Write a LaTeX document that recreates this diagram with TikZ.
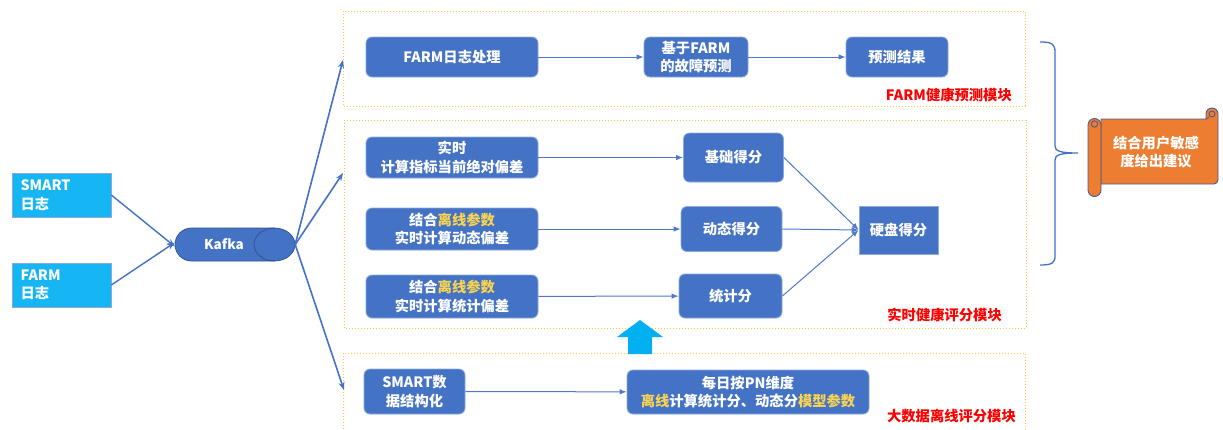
\documentclass[tikz,border=0pt]{standalone}
\usepackage{fontspec}
\setmainfont{Noto Sans CJK SC}
\usetikzlibrary{shapes.geometric,arrows.meta}
\definecolor{boxblue}{RGB}{68,114,196}
\definecolor{boxedge}{RGB}{140,170,220}
\definecolor{kafkaedge}{RGB}{47,82,143}
\definecolor{srcblue}{RGB}{22,182,245}
\definecolor{framey}{RGB}{255,200,60}
\definecolor{hlyellow}{RGB}{250,212,80}
\definecolor{labred}{RGB}{255,0,0}
\definecolor{arrblue}{RGB}{80,120,200}
\definecolor{scrollor}{RGB}{237,125,49}
\definecolor{scrolled}{RGB}{75,90,140}
\definecolor{uparrow}{RGB}{0,176,240}
\newcommand{\fs}{\fontsize{14.3}{18.5}\selectfont}
\newcommand{\hl}[1]{\textcolor{hlyellow}{#1}}
\begin{document}
\begin{tikzpicture}[x=1pt,y=-1pt,
  blk/.style={rectangle, rounded corners=6pt, fill=boxblue, draw=boxedge, line width=0.8pt,
    text=white, font=\fs\bfseries, align=center, inner sep=0pt},
  src/.style={rectangle, fill=srcblue, draw=boxedge, line width=0.6pt, text=white,
    font=\fs\bfseries, align=left, text width=82pt, inner xsep=8.5pt, inner ysep=0pt,
    minimum width=99pt, minimum height=44pt},
  frame/.style={draw=framey, dotted, line width=1pt},
  modlab/.style={text=labred, font=\fs\bfseries, anchor=east, inner sep=0pt},
  flow/.style={draw=arrblue, line width=1pt, -{Latex[length=7pt,width=5.5pt]}},
  karr/.style={draw=boxblue, line width=1.6pt, -{Stealth[length=8pt,width=6pt]}}
]
\useasboundingbox (0,0) rectangle (1223,429);
\fill[white] (0,0) rectangle (1223,429);

% module frames
\draw[frame] (343,11) rectangle (1025,106);
\draw[frame] (344,120) rectangle (1026,328);
\draw[frame] (343,435) -- (343,353) -- (1025,353) -- (1025,435);

% sources
\node[src] (smart) at (61.5,195) {SMART\\日志};
\node[src] (farm) at (61.5,285) {FARM\\日志};

% Kafka (horizontal cylinder)
\node[minimum width=120pt, minimum height=33pt, inner sep=0pt] (kafka) at (235,244.5) {};
\filldraw[fill=boxblue, draw=kafkaedge, line width=0.7pt]
  (191.5,228) -- (274.5,228)
  arc[start angle=90, end angle=-90, x radius=20.5pt, y radius=16.5pt]
  -- (191.5,261)
  arc[start angle=270, end angle=90, radius=16.5pt] -- cycle;
\draw[kafkaedge, line width=0.7pt] (274.5,228)
  arc[start angle=90, end angle=270, x radius=20.5pt, y radius=16.5pt];
\node[text=white, font=\fontsize{13.5}{16}\selectfont\bfseries, inner sep=0pt] (kafkatext) at (224,244.5) {Kafka};

\draw[karr, line width=1.4pt] (smart.east) -- ([yshift=-2pt]kafka.west);
\draw[karr, line width=1.4pt] (farm.east) -- ([yshift=2pt]kafka.west);

\coordinate (ktop) at (343,60);
\coordinate (kmid) at (343,173);
\coordinate (kbot) at (344,390);
\draw[karr] (kafka.east) -- (ktop);
\draw[karr] (kafka.east) -- (kmid);
\draw[karr] (kafka.east) -- (kbot);

% top module
\node[blk, minimum width=172pt, minimum height=40pt] (f1) at (452,57) {FARM日志处理};
\node[blk, minimum width=104pt, minimum height=40pt] (f2) at (696,57) {基于FARM\\的故障预测};
\node[blk, minimum width=102pt, minimum height=40pt] (f3) at (897,57) {预测结果};
\draw[flow] (f1) -- (f2);
\draw[flow] (f2) -- (f3);
\node[modlab] (l1) at (1012,95) {FARM健康预测模块};

% middle module
\node[blk, minimum width=172pt, minimum height=41pt] (m1) at (452,157.5) {实时\\计算指标当前绝对偏差};
\node[blk, minimum width=172pt, minimum height=42pt] (m2) at (452,229) {结合\hl{离线参数}\\实时计算动态偏差};
\node[blk, minimum width=172pt, minimum height=43pt] (m3) at (452,296.5) {结合\hl{离线参数}\\实时计算统计偏差};
\node[blk, minimum width=100pt, minimum height=49pt] (s1) at (733.5,157.5) {基础得分};
\node[blk, minimum width=101pt, minimum height=45pt] (s2) at (731.5,229) {动态得分};
\node[blk, minimum width=103pt, minimum height=44pt] (s3) at (730.5,296) {统计分};
\node[blk, rounded corners=0pt, minimum width=79pt, minimum height=48pt] (disk) at (898.5,230) {硬盘得分};
\draw[flow] (m1) -- (s1);
\draw[flow] (m2) -- (s2);
\draw[flow] (m3) -- (s3);
\draw[flow] (s1.east) -- (disk.west);
\draw[flow] (s2.east) -- (disk.west);
\draw[flow] (s3.east) -- (disk.west);
\node[modlab] (l2) at (1002,315) {实时健康评分模块};

% up arrow
\fill[uparrow] (628,354) -- (628,337) -- (617,337) -- (640,320) -- (663,337) -- (652,337) -- (652,354) -- cycle;

% bottom module
\node[blk, minimum width=101pt, minimum height=45pt] (b1) at (414.5,391.5) {SMART数\\据结构化};
\node[blk, minimum width=242pt, minimum height=44pt] (b2) at (748,392) {每日按PN维度\\\hl{离线}计算统计分、动态分\hl{模型参数}};
\draw[flow] (b1) -- (b2);
\node[modlab] (l3) at (1016,416) {大数据离线评分模块};

% brace
\draw[boxblue, line width=1.3pt]
  (1040,42) .. controls (1052,42) and (1055,44) .. (1055,52) -- (1055,146)
  .. controls (1055,151) and (1060,153) .. (1078,153)
  .. controls (1060,153) and (1055,155) .. (1055,160) -- (1055,256)
  .. controls (1055,263) and (1052,265) .. (1040,265);

% scroll
\begin{scope}[draw=scrolled, line width=0.9pt]
\filldraw[fill=scrollor] (1101,119) -- (1206,119) -- (1206,114) arc (180:360:6) -- (1218,180) arc (0:90:4) -- (1101,184) -- cycle;
\filldraw[fill=scrollor] (1088,125) arc (180:360:6.5) -- (1101,190) arc (0:180:6.5) -- cycle;
\draw (1094.5,124) circle (3.2);
\draw (1212,114) circle (3);
\draw (1206,119) -- (1209,117);
\end{scope}
\node[text=white, font=\fs\bfseries, align=center, inner sep=0pt] (adv) at (1156,152) {结合用户敏感\\度给出建议};
\end{tikzpicture}
\end{document}
